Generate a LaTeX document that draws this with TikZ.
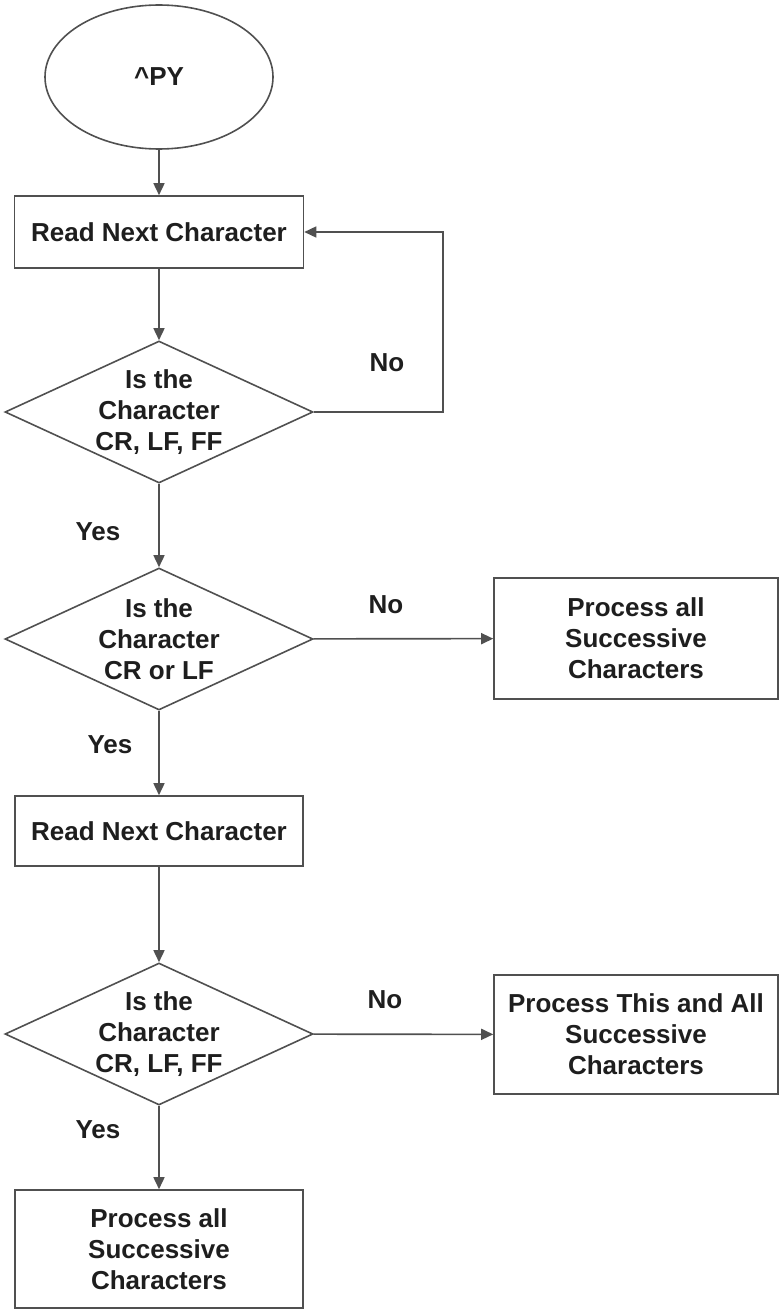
\documentclass[tikz,border=0pt]{standalone}
\usepackage{fontspec}
\setmainfont{Liberation Sans}
\usetikzlibrary{shapes.geometric,arrows.meta}
\definecolor{linegray}{HTML}{505050}
\definecolor{inkc}{HTML}{1E1E1E}
\begin{document}
\begin{tikzpicture}[x=1pt,y=-1pt,
  every node/.style={text=inkc,font=\bfseries\fontsize{26}{31}\selectfont},
  stepbox/.style={draw=linegray,line width=1.6pt,rectangle,inner sep=0pt,align=center},
  decision/.style={draw=linegray,line width=1.6pt,diamond,inner sep=0pt,
    minimum width=308pt,minimum height=142pt},
  terminal/.style={draw=linegray,line width=1.6pt,ellipse,inner sep=0pt,
    minimum width=228pt,minimum height=144pt},
  flow/.style={draw=linegray,line width=1.6pt,-{Triangle[length=12pt,width=11pt]}},
  lbl/.style={inner sep=0pt,align=center}]
\path[use as bounding box] (0,0) rectangle (781,1311);

% shapes
\node[terminal] (start) at (159,77) {\textasciicircum PY};
\node[stepbox,minimum width=289pt,minimum height=72pt] (read1) at (159,232) {Read Next Character};
\node[decision,label={[lbl]center:Is the\\Character\\CR, LF, FF}] (q1) at (159,412) {};
\node[decision,label={[lbl]center:Is the\\Character\\CR or LF}] (q2) at (159,639) {};
\node[stepbox,minimum width=284pt,minimum height=121pt] (proc1) at (636,638.5) {Process all\\Successive\\Characters};
\node[stepbox,minimum width=288pt,minimum height=70pt] (read2) at (159,831) {Read Next Character};
\node[decision,label={[lbl]center:Is the\\Character\\CR, LF, FF}] (q3) at (159,1034) {};
\node[stepbox,minimum width=284pt,minimum height=119pt] (proc2) at (636,1034.5) {Process This and All\\Successive\\Characters};
\node[stepbox,minimum width=288pt,minimum height=118pt] (proc3) at (159,1249) {Process all\\Successive\\Characters};

% branch labels
\node[lbl] (no1) at (387,363) {No};
\node[lbl] (no2) at (386,605) {No};
\node[lbl] (no3) at (385,1000) {No};
\node[lbl] (yes1) at (98,532) {Yes};
\node[lbl] (yes2) at (110,745) {Yes};
\node[lbl] (yes3) at (98,1130) {Yes};

% connectors
\coordinate (loop) at (443,412);
\draw[flow] (start) -- (read1);
\draw[flow] (read1) -- (q1);
\draw[flow] (q1.east) -- (loop) |- (read1.east);
\draw[flow] (q1) -- (q2);
\draw[flow] (q2) -- (proc1);
\draw[flow] (q2) -- (read2);
\draw[flow] (read2) -- (q3);
\draw[flow] (q3) -- (proc2);
\draw[flow] (q3) -- (proc3);
\end{tikzpicture}
\end{document}
